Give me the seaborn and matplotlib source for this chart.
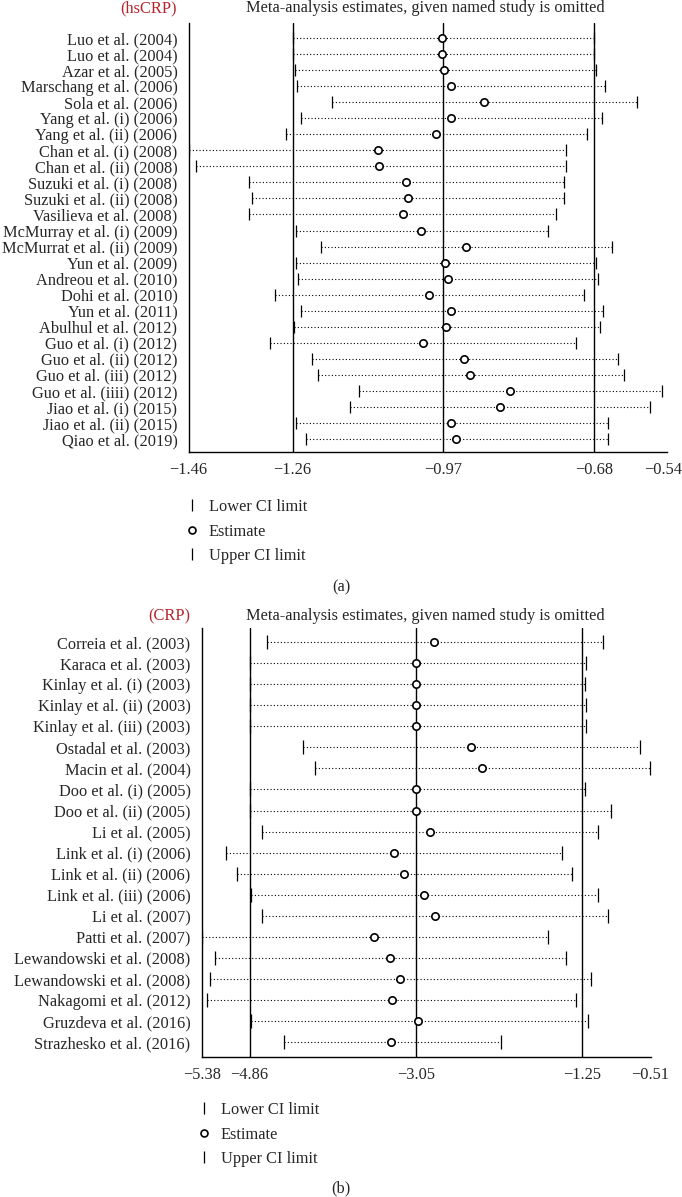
import numpy as np
import seaborn as sns
import matplotlib.pyplot as plt
import matplotlib.transforms as mtransforms
from matplotlib.lines import Line2D

# ---- data: panel (a) hsCRP ----
studies_a = ["Luo et al. (2004)", "Luo et al. (2004)", "Azar et al. (2005)",
             "Marschang et al. (2006)", "Sola et al. (2006)", "Yang et al. (i) (2006)",
             "Yang et al. (ii) (2006)", "Chan et al. (i) (2008)", "Chan et al. (ii) (2008)",
             "Suzuki et al. (i) (2008)", "Suzuki et al. (ii) (2008)", "Vasilieva et al. (2008)",
             "McMurray et al. (i) (2009)", "McMurrat et al. (ii) (2009)", "Yun et al. (2009)",
             "Andreou et al. (2010)", "Dohi et al. (2010)", "Yun et al. (2011)",
             "Abulhul et al. (2012)", "Guo et al. (i) (2012)", "Guo et al. (ii) (2012)",
             "Guo et al. (iii) (2012)", "Guo et al. (iiii) (2012)", "Jiao et al. (i) (2015)",
             "Jiao et al. (ii) (2015)", "Qiao et al. (2019)"]
est_a = [-0.972, -0.972, -0.968, -0.956, -0.892, -0.955, -0.984, -1.096, -1.093,
         -1.042, -1.039, -1.048, -1.013, -0.926, -0.967, -0.961, -0.997, -0.955,
         -0.965, -1.009, -0.930, -0.918, -0.842, -0.862, -0.956, -0.946]
lower_a = [-1.260, -1.260, -1.256, -1.252, -1.184, -1.244, -1.273, -1.460, -1.445,
           -1.343, -1.338, -1.343, -1.254, -1.206, -1.254, -1.249, -1.293, -1.243,
           -1.258, -1.304, -1.223, -1.212, -1.132, -1.150, -1.253, -1.235]
upper_a = [-0.680, -0.680, -0.676, -0.660, -0.598, -0.665, -0.693, -0.734, -0.735,
           -0.739, -0.739, -0.754, -0.768, -0.646, -0.677, -0.672, -0.699, -0.664,
           -0.668, -0.715, -0.634, -0.623, -0.550, -0.572, -0.653, -0.653]
ticks_a = [-1.46, -1.26, -0.97, -0.68, -0.54]
ref_a = [-1.26, -0.97, -0.68]

# ---- data: panel (b) CRP ----
studies_b = ["Correia et al. (2003)", "Karaca et al. (2003)", "Kinlay et al. (i) (2003)",
             "Kinlay et al. (ii) (2003)", "Kinlay et al. (iii) (2003)", "Ostadal et al. (2003)",
             "Macin et al. (2004)", "Doo et al. (i) (2005)", "Doo et al. (ii) (2005)",
             "Li et al. (2005)", "Link et al. (i) (2006)", "Link et al. (ii) (2006)",
             "Link et al. (iii) (2006)", "Li et al. (2007)", "Patti et al. (2007)",
             "Lewandowski et al. (2008)", "Lewandowski et al. (2008)", "Nakagomi et al. (2012)",
             "Gruzdeva et al. (2016)", "Strazhesko et al. (2016)"]
est_b = [-2.857, -3.055, -3.055, -3.055, -3.055, -2.457, -2.339, -3.050, -3.050,
         -2.900, -3.295, -3.182, -2.970, -2.848, -3.508, -3.338, -3.234, -3.319,
         -3.036, -3.324]
lower_b = [-4.676, -4.860, -4.860, -4.860, -4.860, -4.276, -4.148, -4.860, -4.860,
           -4.723, -5.119, -5.001, -4.846, -4.723, -5.380, -5.237, -5.294, -5.322,
           -4.841, -4.483]
upper_b = [-1.029, -1.213, -1.217, -1.213, -1.213, -0.628, -0.515, -1.217, -0.944,
           -1.076, -1.472, -1.359, -1.081, -0.972, -1.618, -1.429, -1.156, -1.321,
           -1.184, -2.131]
ticks_b = [-5.38, -4.86, -3.05, -1.25, -0.51]
ref_b = [-4.86, -3.05, -1.25]

sns.set_theme(style="white")
plt.rcParams['font.family'] = ['Liberation Serif', 'DejaVu Serif']
plt.rcParams['axes.unicode_minus'] = True

FS = 11.8
RED = "#b5232a"

fig = plt.figure(figsize=(6.82, 11.97), dpi=100)


def draw_panel(rect, studies, est, lower, upper, ticks, refs, ylim, cap_size, ypad, tag,
               tag_x, title_y, leg_anchor, letter, letter_y, last_shift=0):
    ax = fig.add_axes(rect)
    rows = np.arange(len(studies))
    for r in refs:
        ax.axvline(r, color="black", lw=1.0, zorder=1)
    ax.hlines(rows, lower, upper, colors="black", linestyles=(0, (1, 2)), lw=0.8, zorder=2)
    ax.plot(lower, rows, ls="none", marker="|", ms=cap_size, mew=0.9, color="black", zorder=3)
    ax.plot(upper, rows, ls="none", marker="|", ms=cap_size, mew=0.9, color="black", zorder=3)
    sns.scatterplot(x=est, y=rows, ax=ax, marker="o", s=28, facecolor="white",
                    edgecolor="black", linewidth=1.2, zorder=4)
    ax.set_xlim(ticks[0], ticks[-1])
    ax.set_ylim(*ylim)
    ax.set_yticks(rows)
    ax.set_yticklabels(studies, fontsize=FS)
    ax.set_xticks(ticks)
    ax.set_xticklabels([f"{t:.2f}".replace("-", "\u2212") for t in ticks], fontsize=FS)
    ax.tick_params(axis="y", length=0, pad=ypad)
    ax.tick_params(axis="x", length=4, width=1, direction="out", color="black", pad=3)
    # nudge the right-most tick label so it stays inside the figure
    if last_shift:
        lab = ax.xaxis.get_major_ticks()[-1].label1
        lab.set_transform(lab.get_transform() +
                          mtransforms.ScaledTranslation(-last_shift / 72, 0, fig.dpi_scale_trans))
    for s in ["top", "right"]:
        ax.spines[s].set_visible(False)
    for s in ["left", "bottom"]:
        ax.spines[s].set_color("black")
        ax.spines[s].set_linewidth(1.0)
    ax.set_xlabel("")
    ax.set_ylabel("")

    fig.text(tag_x, title_y, tag, color=RED, fontsize=FS, ha="right", va="center")
    fig.text(0.624, title_y, "Meta-analysis estimates, given named study is omitted",
             fontsize=FS, ha="center", va="center")

    handles = [Line2D([], [], ls="none", marker="|", ms=9, mew=0.9, color="black"),
               Line2D([], [], ls="none", marker="o", ms=5, mfc="white", mec="black", mew=1.2),
               Line2D([], [], ls="none", marker="|", ms=9, mew=0.9, color="black")]
    fig.legend(handles, ["Lower CI limit", "Estimate", "Upper CI limit"], loc="upper left",
               bbox_to_anchor=leg_anchor, frameon=False, fontsize=FS, handlelength=0.7,
               handletextpad=0.65, labelspacing=0.52, borderpad=0, borderaxespad=0)
    fig.text(0.5, letter_y, letter, fontsize=FS, ha="center", va="center")
    return ax


W, H = 682.0, 1197.0
draw_panel([188.6 / W, 1 - 452 / H, (667 - 188.6) / W, 429 / H],
           studies_a, est_a, lower_a, upper_a, ticks_a, ref_a, (25.81, -0.94), 8, 8,
           "(hsCRP)", 177 / W, 1 - 8 / H, (186.5 / W, 1 - 499 / H), "(a)", 1 - 587 / H,
           last_shift=3)
draw_panel([201.7 / W, 1 - 1057 / H, (650.6 - 201.7) / W, 429 / H],
           studies_b, est_b, lower_b, upper_b, ticks_b, ref_b, (19.71, -0.67), 10, 8,
           "(CRP)", 190 / W, 1 - 616 / H, (198.5 / W, 1 - 1102 / H), "(b)", 1 - 1188 / H)

fig.savefig("out.png", dpi=100)
